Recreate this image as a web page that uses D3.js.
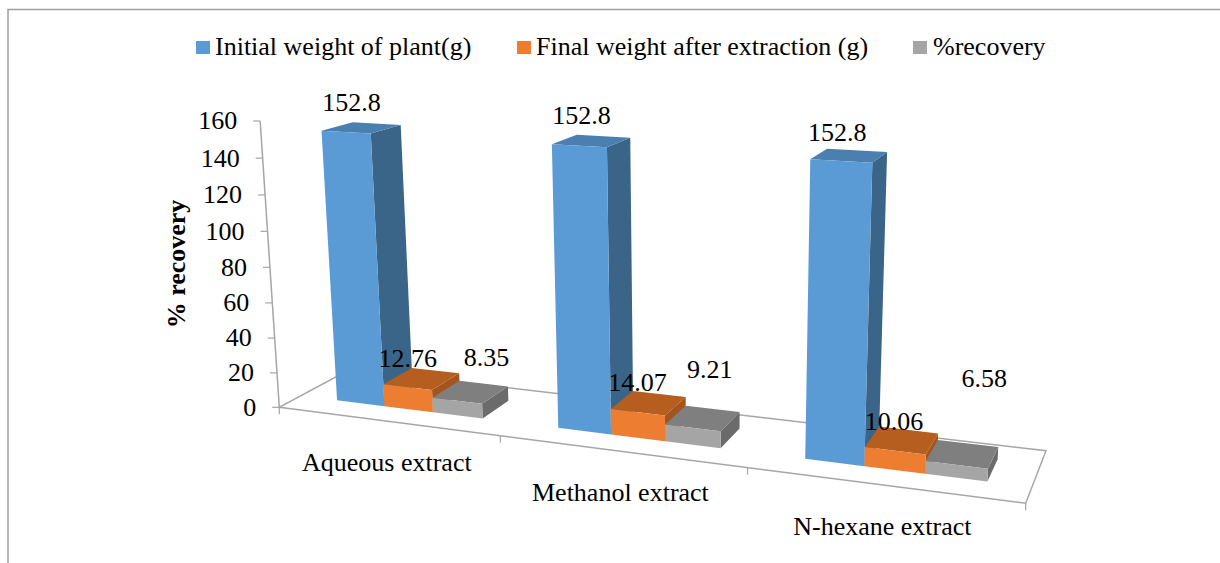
<!DOCTYPE html>
<html>
<head>
<meta charset="utf-8">
<script src="https://cdn.jsdelivr.net/npm/d3@7"></script>
<style>
  html, body { margin: 0; padding: 0; background: #fff; }
  text { font-family: "Liberation Serif", serif; fill: #000; }
</style>
</head>
<body>
<div id="chart"></div>
<script>
const categories = ["Aqueous extract", "Methanol extract", "N-hexane extract"];
const seriesNames = ["Initial weight of plant(g)", "Final weight after extraction (g)", "%recovery"];
const initialWeight = [152.8, 152.8, 152.8];
const finalWeight = [12.76, 14.07, 10.06];
const recovery = [8.35, 9.21, 6.58];
const yTicks = [0, 20, 40, 60, 80, 100, 120, 140, 160];

const WIDTH = 1220;
const HEIGHT = 563;
const AXIS_COLOR = "#a6a6a6";
const FONT_SIZE = 26;

// front, top and side shade of each series
const COLORS = [
  { front: "#5b9bd5", top: "#4a7fb0", side: "#3a6488" },
  { front: "#ed7d31", top: "#b55e20", side: "#a4541c" },
  { front: "#a5a5a5", top: "#7f7f7f", side: "#6b6b6b" }
];

// corners of the floor on screen, and where the verticals converge
const FLOOR = { fl: [279.3, 407.3], fr: [1025.7, 503.3], br: [1046, 450.7], bl: [350, 369.3] };
const VANISH = [700, 6700];
const TILT = -2.72e-4;
const BAR_DEPTH = [0.29, 0.72];

const floorMatrix = ({ fl, fr, br, bl }) => {
  const dx1 = fr[0] - br[0], dx2 = bl[0] - br[0], sx = fl[0] - fr[0] + br[0] - bl[0];
  const dy1 = fr[1] - br[1], dy2 = bl[1] - br[1], sy = fl[1] - fr[1] + br[1] - bl[1];
  const det = dx1 * dy2 - dx2 * dy1;
  const g = (sx * dy2 - dx2 * sy) / det;
  const h = (dx1 * sy - sx * dy1) / det;
  return {
    a: fr[0] - fl[0] + g * fr[0], b: bl[0] - fl[0] + h * bl[0], c: fl[0],
    d: fr[1] - fl[1] + g * fr[1], e: bl[1] - fl[1] + h * bl[1], f: fl[1],
    g, h
  };
};
const M = floorMatrix(FLOOR);

// u: along the categories 0-1, w: depth 0-1, v: data value
const project = (u, w, v) => {
  const t = TILT * v;
  const W = M.g * u + M.h * w + 1 + t;
  return [
    (M.a * u + M.b * w + M.c + t * VANISH[0]) / W,
    (M.d * u + M.e * w + M.f + t * VANISH[1]) / W
  ];
};

const x0 = d3.scaleBand().domain(categories).range([0.003, 1.003]).paddingInner(0.33).paddingOuter(0.165);
const x1 = d3.scaleBand().domain(seriesNames).range([0, x0.bandwidth()]);
// the value goes straight into project(); the scale only sets the domain
const y = d3.scaleLinear().domain([0, 160]).range([0, 160]);

const series = seriesNames.map((name, i) => ({
  name, i, values: [initialWeight, finalWeight, recovery][i]
}));

const svg = d3.select("#chart").append("svg")
  .attr("width", WIDTH)
  .attr("height", HEIGHT)
  .style("display", "block");

const poly = pts => d3.line()(pts) + "Z";

// frame, open on the right and at the bottom
svg.append("path")
  .attr("d", d3.line()([[8, HEIGHT], [8, 9.5], [WIDTH, 9.5]]))
  .attr("fill", "none")
  .attr("stroke", "#9f9f9f")
  .attr("stroke-width", 1.5);

// floor
svg.append("path")
  .attr("d", poly([project(0, 0, 0), project(1, 0, 0), project(1, 1, 0), project(0, 1, 0)]))
  .attr("fill", "none")
  .attr("stroke", AXIS_COLOR)
  .attr("stroke-width", 1.5);

// ticks under the front edge
svg.append("g").selectAll("line")
  .data(d3.range(categories.length + 1))
  .join("line")
    .attr("x1", d => project(d / categories.length, 0, 0)[0])
    .attr("y1", d => project(d / categories.length, 0, 0)[1])
    .attr("x2", d => project(d / categories.length, 0, 0)[0])
    .attr("y2", d => project(d / categories.length, 0, 0)[1] + 7)
    .attr("stroke", AXIS_COLOR)
    .attr("stroke-width", 1.2);

// value axis
svg.append("path")
  .attr("d", d3.line()([project(0, 0, y(0)), project(0, 0, y(160))]))
  .attr("stroke", AXIS_COLOR)
  .attr("stroke-width", 1.5);

const yAxis = svg.append("g").selectAll("g")
  .data(yTicks)
  .join("g")
    .attr("transform", d => `translate(${project(0, 0, y(d))})`);

yAxis.append("line")
  .attr("x1", -7)
  .attr("stroke", AXIS_COLOR)
  .attr("stroke-width", 1.2);

yAxis.append("text")
  .attr("x", -23)
  .attr("dy", "0.32em")
  .attr("text-anchor", "end")
  .attr("font-size", FONT_SIZE)
  .text(d => d);

svg.append("text")
  .attr("transform", "translate(185, 264) rotate(-90)")
  .attr("text-anchor", "middle")
  .attr("font-size", FONT_SIZE)
  .attr("font-weight", "bold")
  .text("% recovery");

// bars, left to right so that each one covers the side of the previous one
const barRange = (s, c) => {
  const u0 = x0(categories[c]) + x1(s.name);
  return [u0, u0 + x1.bandwidth()];
};

const bars = [];
categories.forEach((cat, c) => {
  series.forEach(s => bars.push({ s, c, v: s.values[c] }));
});

const [wA, wB] = BAR_DEPTH;
const barGroups = svg.append("g").selectAll("g")
  .data(bars)
  .join("g");

barGroups.append("path")
  .attr("fill", d => COLORS[d.s.i].side)
  .attr("d", d => {
    const [, u2] = barRange(d.s, d.c);
    return poly([project(u2, wA, 0), project(u2, wB, 0), project(u2, wB, d.v), project(u2, wA, d.v)]);
  });

barGroups.append("path")
  .attr("fill", d => COLORS[d.s.i].top)
  .attr("d", d => {
    const [u1, u2] = barRange(d.s, d.c);
    return poly([project(u1, wA, d.v), project(u2, wA, d.v), project(u2, wB, d.v), project(u1, wB, d.v)]);
  });

barGroups.append("path")
  .attr("fill", d => COLORS[d.s.i].front)
  .attr("d", d => {
    const [u1, u2] = barRange(d.s, d.c);
    return poly([project(u1, wA, 0), project(u2, wA, 0), project(u2, wA, d.v), project(u1, wA, d.v)]);
  });

// category labels hang below the front edge, at the middle of each category
svg.append("g").selectAll("text")
  .data(categories)
  .join("text")
    .attr("x", (d, i) => project((i + 0.5) / categories.length, 0, 0)[0])
    .attr("y", (d, i) => project((i + 0.5) / categories.length, 0, 0)[1] + 50)
    .attr("text-anchor", "middle")
    .attr("font-size", FONT_SIZE)
    .text(d => d);

// data labels were dragged by hand in the original, so each has its own nudge
const LABEL_NUDGE = [
  [[-10, -17], [-10, -17], [-12, -15]],
  [[-14, -12], [-11, -12], [-8, -10]],
  [[16, -26], [7, -40], [22, -67]]
];
svg.append("g").selectAll("text")
  .data(bars)
  .join("text")
    .attr("x", d => {
      const [u1, u2] = barRange(d.s, d.c);
      return project((u1 + u2) / 2, (wA + wB) / 2, d.v)[0] + LABEL_NUDGE[d.s.i][d.c][0];
    })
    .attr("y", d => {
      const [u1, u2] = barRange(d.s, d.c);
      return project((u1 + u2) / 2, (wA + wB) / 2, d.v)[1] + LABEL_NUDGE[d.s.i][d.c][1];
    })
    .attr("text-anchor", "middle")
    .attr("font-size", FONT_SIZE)
    .text(d => d.v);

// legend
const LEGEND_X = [196, 517, 913];
const legend = svg.append("g").selectAll("g")
  .data(series)
  .join("g")
    .attr("transform", d => `translate(${LEGEND_X[d.i]}, 41)`);

legend.append("rect")
  .attr("width", 14)
  .attr("height", 13)
  .attr("fill", d => COLORS[d.i].front);

legend.append("text")
  .attr("x", d => d.i === 2 ? 20 : 19)
  .attr("y", 14)
  .attr("font-size", FONT_SIZE)
  .text(d => d.name);
</script>
</body>
</html>
